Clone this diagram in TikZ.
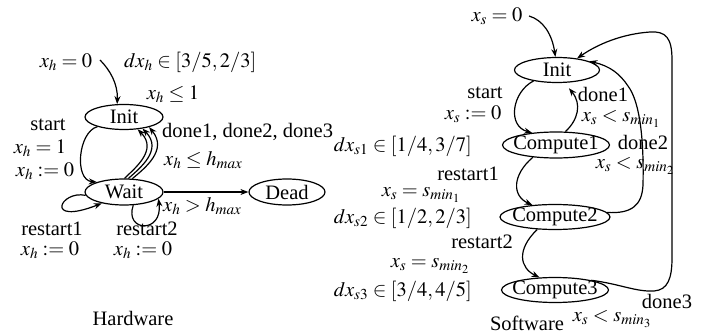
\documentclass[tikz,border=0pt]{standalone}
\usepackage{mathptmx}
\usepackage[no-math]{fontspec}
\setmainfont{Liberation Serif}
\usetikzlibrary{shapes.geometric,arrows.meta}
\begin{document}
\begin{tikzpicture}[x=1pt,y=-1pt,
  font=\fontsize{20.5}{22}\selectfont,
  stnode/.style={ellipse,draw,line width=1.2pt,inner sep=0pt},
  ar/.style={line width=1.2pt,-{Stealth[length=8pt,width=6pt]}},
  lbl/.style={inner sep=0pt},
  mlbl/.style={inner sep=0pt,execute at begin node={\thickmuskip=4mu plus 2mu}}]
\useasboundingbox (0,0) rectangle (708,336);

% ---------- Hardware ----------
\node[stnode,minimum width=78pt,minimum height=25pt,label={center:Init}] (hinit) at (124,117) {};
\node[stnode,minimum width=78pt,minimum height=26pt,label={center:Wait}] (wait) at (124,192) {};
\node[stnode,minimum width=76pt,minimum height=26pt,label={center:Dead}] (dead) at (287,192) {};

\node[mlbl] (xh0) at (66,62) {$x_h=0$};
\node[mlbl,anchor=west] (dxh) at (124,62) {$dx_h\in[3/5,2/3]$};
\node[mlbl] (xhle) at (173,94) {$x_h\le 1$};
\node[lbl] (hstart) at (48,125) {start};
\node[mlbl] (xh1) at (40,148) {$x_h=1$};
\node[mlbl] (xhr) at (45,171) {$x_h:=0$};
\node[lbl,anchor=west] (hdone) at (162,132) {done1, done2, done3};
\node[mlbl,anchor=west] (hmax) at (164,160) {$x_h\le h_{max}$};
\node[mlbl,anchor=west] (hgt) at (163,206) {$x_h>h_{max}$};
\node[lbl] (rs1) at (52,229) {restart1};
\node[mlbl] (rs1a) at (50,250) {$x_h:=0$};
\node[lbl] (rs2) at (147,229) {restart2};
\node[mlbl] (rs2a) at (143,250) {$x_h:=0$};
\node[lbl] (hw) at (133,318) {Hardware};

\coordinate (hin) at (100,60);
\draw[ar] (hin) .. controls (110,70) and (118,84) .. (hinit.118);
\draw[ar] (hinit.200) .. controls (78,132) and (74,180) .. (wait.160);
\draw[ar] (wait.88) .. controls (135,168) and (158,150) .. (hinit.318);
\draw[ar] (wait.72) .. controls (140,168) and (163,150) .. (hinit.328);
\draw[ar] (wait.58) .. controls (145,168) and (168,150) .. (hinit.338);
\draw[ar] (wait) -- (dead);
\draw[ar] (wait.185) .. controls (60,190) and (44,226) .. (wait.207);
\draw[ar] (wait.305) .. controls (124,232) and (163,234) .. (wait.349);

% ---------- Software ----------
\node[stnode,minimum width=85pt,minimum height=25pt,label={center:Init}] (inits) at (557,70) {};
\node[stnode,minimum width=107pt,minimum height=26pt,label={center:Compute1}] (c1) at (556,145) {};
\node[stnode,minimum width=110pt,minimum height=25pt,label={center:Compute2}] (c2) at (555,217) {};
\node[stnode,minimum width=107pt,minimum height=25pt,label={center:Compute3}] (c3) at (555,290) {};

\node[mlbl] (xs0) at (497,16) {$x_s=0$};
\node[lbl] (sstart) at (485,93) {start};
\node[mlbl] (xsr) at (473,114) {$x_s:=0$};
\node[mlbl,anchor=east] (dx1) at (472,146) {$dx_{s1}\in[1/4,3/7]$};
\node[lbl] (sd1) at (603,94) {done1};
\node[mlbl] (sd1a) at (621,119) {$x_s<s_{min_1}$};
\node[lbl] (sd2) at (643,142) {done2};
\node[mlbl] (sd2a) at (635,166) {$x_s<s_{min_2}$};
\node[lbl] (sr1) at (468,174) {restart1};
\node[mlbl] (sr1a) at (421,195) {$x_s=s_{min_1}$};
\node[mlbl,anchor=east] (dx2) at (472,218) {$dx_{s2}\in[1/2,2/3]$};
\node[lbl] (sr2) at (482,242) {restart2};
\node[mlbl] (sr2a) at (430,266) {$x_s=s_{min_2}$};
\node[mlbl,anchor=east] (dx3) at (472,291) {$dx_{s3}\in[3/4,4/5]$};
\node[lbl] (sd3) at (667,301) {done3};
\node[mlbl] (sd3a) at (612,319) {$x_s<s_{min_3}$};
\node[lbl] (sw) at (527,323) {Software};

\coordinate (sin) at (529,16);
\draw[ar] (sin) .. controls (543,20) and (552,34) .. (inits.97);
\draw[ar] (inits.205) .. controls (512,92) and (507,126) .. (c1.153);
\draw[ar,shorten >=7pt] (c1.55) .. controls (578,120) and (582,104) .. (inits.300);
\draw[ar] (c1.208) .. controls (512,175) and (512,196) .. (c2.152);
\draw[ar] (c2.215) .. controls (516,250) and (520,268) .. (c3.141);
\draw[ar] (c2.5) .. controls (632,214) and (642,205) .. (643,185)
  .. controls (644,140) and (640,102) .. (628,86)
  .. controls (620,74) and (610,66) .. (inits.15);
\draw[ar] (c3.15) .. controls (620,284) and (636,292) .. (654,291)
  .. controls (668,290) and (672,278) .. (672,258)
  -- (672,60) .. controls (672,38) and (666,31) .. (650,32)
  .. controls (622,34) and (598,44) .. (inits.30);
\end{tikzpicture}
\end{document}
